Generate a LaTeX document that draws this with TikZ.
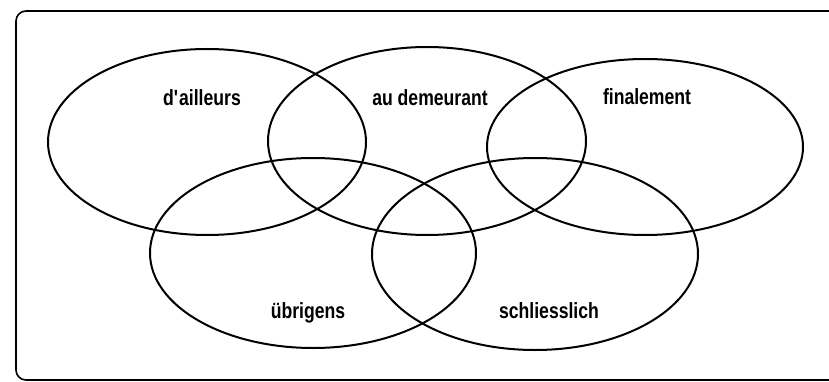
\documentclass[tikz,border=0pt]{standalone}
\usepackage{fontspec}
\setmainfont{Liberation Sans}
\usetikzlibrary{shapes.geometric}
\definecolor{ink}{RGB}{0,0,0}
\tikzset{
  ring/.style={ellipse,draw=ink,line width=2pt,inner sep=0pt},
  word/.style={anchor=base,text=ink,inner sep=0pt,
    font=\fontsize{22}{24}\bfseries\addfontfeature{FakeStretch=0.8}},
  frame/.style={draw=ink,line width=1.6pt,rounded corners=10pt},
}
\begin{document}
\begin{tikzpicture}[x=1pt,y=-1pt]
  \useasboundingbox (0,0) rectangle (829,382);
  \begin{scope}
    \clip (0,0) rectangle (829,382);
    \draw[frame] (16,11) rectangle (850,380);
  \end{scope}
  % the five rings
  \foreach \n/\x/\y/\w/\h in {dailleurs/207/142/318/186,
      demeurant/427/141/318/188,finalement/645/147/316/176,
      uebrigens/313/253/326/190,schliesslich/535/254/326/192}
    \node[ring,minimum width=\w pt,minimum height=\h pt] (\n) at (\x,\y) {};
  \node[word] (t-dailleurs) at (202,106) {d\textquotesingle ailleurs};
  \node[word] (t-demeurant) at (430,106) {au demeurant};
  \node[word] (t-finalement) at (647,105) {finalement};
  \node[word] (t-uebrigens) at (308,318) {übrigens};
  \node[word] (t-schliesslich) at (549,318) {schliesslich};
\end{tikzpicture}
\end{document}
